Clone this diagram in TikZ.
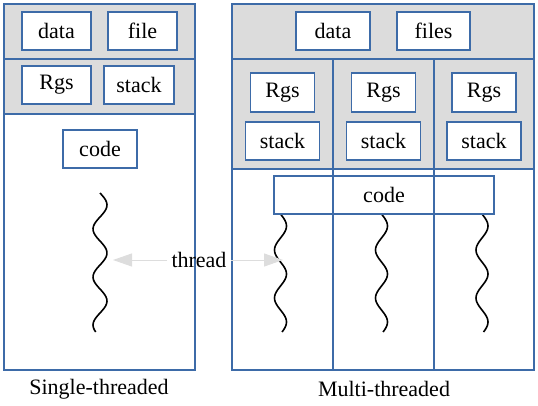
\documentclass[tikz,border=0pt]{standalone}
\usepackage{fontspec}
\setmainfont{Liberation Serif}
\usetikzlibrary{arrows.meta}
\definecolor{boxblue}{HTML}{3D6BA8}
\definecolor{panegray}{HTML}{DCDCDC}
\definecolor{arrgray}{HTML}{DDDDDD}
\begin{document}
\begin{tikzpicture}[x=1pt,y=-1pt,line width=1.8pt,font=\fontsize{22}{26}\selectfont,
  box/.style={draw=boxblue,fill=white,minimum width=#1,minimum height=38pt,inner sep=0pt},
  box/.default=69pt,
  faden/.style={draw=black,line width=1.6pt,smooth,samples=60},
  pfeil/.style={arrgray,line width=1pt,-{Triangle[length=19pt,width=13pt]}}]
\useasboundingbox (0,0) rectangle (538,406);
%Single-threaded
\fill[panegray] (4,4) rectangle (195,114);
\draw[boxblue] (4,4) rectangle (195,370);
\draw[boxblue] (4,59)--(195,59) (4,114)--(195,114);
\node[box] (sdata) at (56.5,31) {data};
\node[box] (sfile) at (142.5,31) {file};
\node[box] (srgs) at (56.5,85) {Rgs};
\node[box=70pt] (sstack) at (139,85) {stack};
\node[box=74pt] (scode) at (100,149) {code};
\draw[faden] plot[domain=0:139] ({100+7*sin(\x*7.5)},{193+\x});
%Multi-threaded
\fill[panegray] (232,4) rectangle (534,169);
\draw[boxblue] (232,4) rectangle (534,370);
\draw[boxblue] (232,59)--(534,59) (232,169)--(534,169);
\node[box=74pt] (mdata) at (333,31) {data};
\node[box=73pt] (mfiles) at (433.5,31) {files};
\foreach \c/\n in {282.5/1,383.5/2,484/3}{
  \node[box=64pt,minimum height=39pt] (mrgs\n) at (\c,92.5) {Rgs};
  \node[box=74pt] (mstack\n) at (\c,141) {stack};
  \draw[faden] plot[domain=0:118] ({\c-2+6*sin(\x*7.5)},{214+\x});
}
\node[box=220pt,fill=none] (mcode) at (384,195) {code};
\draw[boxblue] (333,59)--(333,370) (434,59)--(434,370);
%Beschriftung
\coordinate (tl) at (113,260);
\coordinate (tr) at (283,260);
\node (thr) at (199,260) {thread};
\draw[pfeil] (thr) -- (tl);
\draw[pfeil] (thr) -- (tr);
\node (scap) at (99,389) {Single-threaded};
\node (mcap) at (384,389) {Multi-threaded};
\end{tikzpicture}
\end{document}
